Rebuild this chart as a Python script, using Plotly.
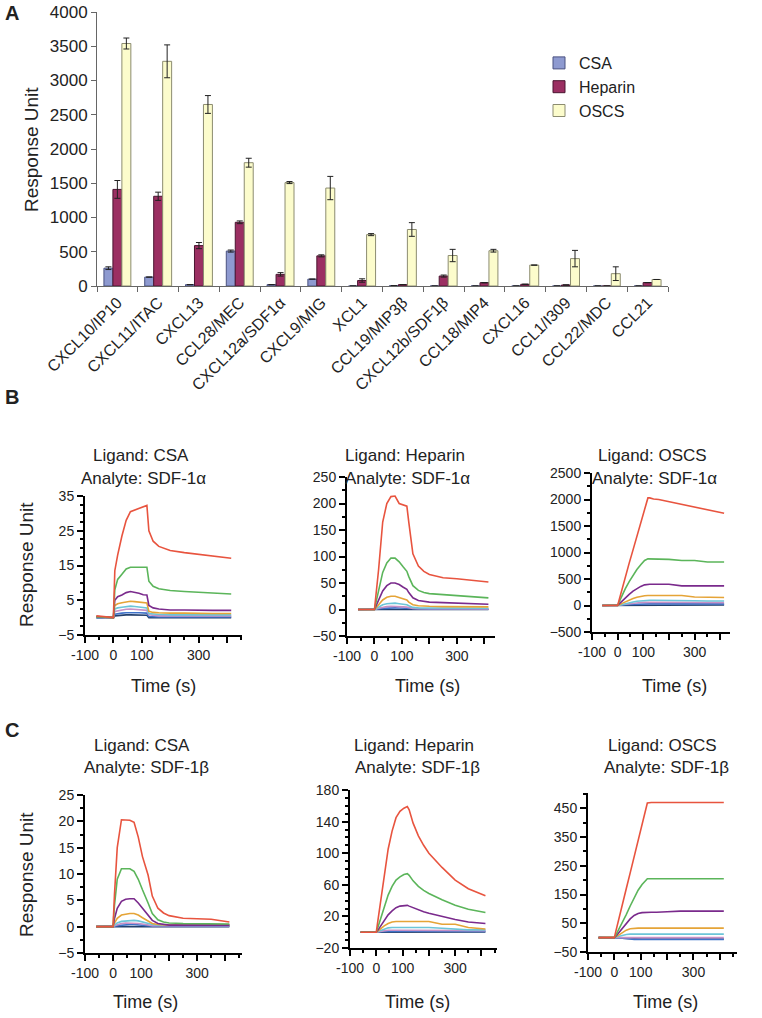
import plotly.graph_objects as go

W, H = 762, 1018

# ---------------- panel A: binding of chemokines to immobilised GAGs ----------------
chemokines = ["CXCL10/IP10", "CXCL11/ITAC", "CXCL13", "CCL28/MEC", "CXCL12a/SDF1α",
              "CXCL9/MIG", "XCL1", "CCL19/MIP3β", "CXCL12b/SDF1β", "CCL18/MIP4",
              "CXCL16", "CCL1/I309", "CCL22/MDC", "CCL21"]
csa = [260, 130, 20, 510, 20, 100, 0, 5, 0, 0, 0, 0, 0, 0]
csa_err = [20, 0, 0, 15, 0, 0, 0, 0, 0, 0, 0, 0, 0, 0]
heparin = [1410, 1310, 590, 930, 170, 440, 80, 20, 145, 48, 25, 15, 0, 50]
heparin_err = [130, 60, 45, 20, 25, 15, 25, 0, 15, 0, 0, 0, 0, 0]
oscs = [3540, 3280, 2650, 1800, 1510, 1430, 750, 825, 445, 515, 305, 400, 180, 95]
oscs_err = [80, 240, 130, 65, 15, 170, 15, 100, 90, 20, 0, 120, 100, 0]

# ---------------- panels B/C: sensorgrams (time in s) ----------------
time_s = [-60, 0, 5, 15, 30, 45, 60, 75, 90, 105, 118, 125, 140, 160, 180, 200, 250, 300, 350, 415]

# SDF-1alpha, highest to lowest concentration
csa_sdf1a = [
    [0.5, 0, 13.5, 18, 23.5, 28, 30.5, 31, 31.5, 32, 32.3, 25, 22, 20.5, 19.8, 19.3, 18.7, 18.2, 17.7, 17.1],
    [0.3, 0, 8, 11, 12.5, 14, 14.5, 14.5, 14.5, 14.3, 14.5, 10.5, 9, 8.3, 8, 7.8, 7.5, 7.3, 7.1, 6.8],
    [0.3, 0, 5, 6, 6.5, 7.2, 7.5, 7.3, 7, 6.6, 6.5, 3.5, 2.8, 2.5, 2.3, 2.2, 2.2, 2.1, 2.1, 2.1],
    [0.2, 0, 3.5, 4, 4.3, 4.6, 4.7, 4.6, 4.4, 4.2, 4.2, 1.8, 1.5, 1.4, 1.3, 1.3, 1.3, 1.2, 1.2, 1.2],
    [0.2, 0, 2.5, 2.8, 3, 3.2, 3.3, 3.2, 3, 2.9, 2.8, 1.2, 1, 0.9, 0.9, 0.8, 0.8, 0.8, 0.8, 0.8],
    [0.1, 0, 1.8, 2, 2.2, 2.4, 2.5, 2.4, 2.3, 2.2, 2.1, 0.8, 0.6, 0.5, 0.5, 0.5, 0.5, 0.5, 0.5, 0.5],
    [0, 0, 1, 1.2, 1.3, 1.4, 1.5, 1.4, 1.4, 1.3, 1.3, 0.3, 0.2, 0.2, 0.2, 0.2, 0.2, 0.2, 0.2, 0.2],
    [0, 0, 0.5, 0.6, 0.7, 0.8, 0.8, 0.8, 0.7, 0.7, 0.7, 0, 0, 0, 0, 0, 0, 0, 0, 0],
]
heparin_sdf1a = [
    [0, 0, 25, 75, 165, 200, 213, 214, 200, 198, 195, 165, 105, 82, 72, 66, 60, 58, 56, 52],
    [0, 0, 12, 35, 70, 88, 97, 97, 90, 80, 72, 62, 45, 36, 32, 30, 28, 26, 24, 22],
    [0, 0, 6, 18, 35, 45, 50, 50, 47, 42, 38, 32, 22, 17, 15, 14, 13, 12, 11, 10],
    [0, 0, 3, 9, 18, 23, 25, 25, 23, 20, 18, 14, 9, 7, 6, 6, 5.5, 5, 5, 5],
    [0, 0, 1.5, 5, 9, 11, 12, 12, 11, 10, 9, 7, 4, 3, 3, 3, 2.5, 2.5, 2.5, 2.5],
    [0, 0, 0.7, 2.5, 4.5, 5.5, 6, 6, 5.5, 5, 4.5, 3.5, 2, 1.5, 1.5, 1.5, 1, 1, 1, 1],
    [0, 0, 0.3, 1.2, 2.2, 2.8, 3, 3, 2.8, 2.5, 2.3, 1.8, 1, 0.8, 0.8, 0.8, 0.5, 0.5, 0.5, 0.5],
    [0, 0, 0.1, 0.4, 0.8, 1, 1, 1, 1, 0.9, 0.8, 0.6, 0.3, 0.2, 0.2, 0.2, 0, 0, 0, 0],
]
oscs_sdf1a = [
    [0, 0, 90, 280, 540, 800, 1050, 1300, 1550, 1800, 2030, 2030, 2010, 2000, 1980, 1960, 1900, 1850, 1800, 1740],
    [0, 0, 60, 170, 320, 450, 570, 680, 770, 850, 880, 880, 880, 880, 880, 870, 850, 850, 820, 820],
    [0, 0, 25, 75, 150, 210, 270, 320, 360, 390, 400, 400, 400, 400, 400, 400, 370, 370, 370, 370],
    [0, 0, 10, 35, 70, 100, 130, 155, 175, 185, 190, 190, 190, 190, 190, 190, 190, 160, 150, 150],
    [0, 0, 5, 15, 35, 50, 65, 80, 90, 95, 100, 100, 100, 100, 100, 100, 90, 90, 85, 85],
    [0, 0, 5, 15, 25, 35, 45, 52, 57, 60, 60, 60, 60, 60, 60, 60, 58, 55, 55, 55],
    [0, 0, 3, 8, 13, 18, 22, 26, 28, 30, 30, 30, 30, 30, 30, 30, 30, 30, 30, 30],
    [0, 0, 1, 3, 5, 6, 8, 9, 10, 10, 10, 10, 10, 10, 10, 10, 10, 10, 10, 10],
]

# SDF-1beta
csa_sdf1b = [
    [0, 0, 6, 15, 20.3, 20.3, 20.2, 19.8, 17, 13.3, 11.2, 9.8, 5.8, 3.5, 2.6, 2.1, 1.6, 1.5, 1.4, 0.9],
    [0, 0, 4, 9, 11, 11, 11, 10.5, 9, 7, 5.5, 4.5, 2.5, 1.3, 0.9, 0.7, 0.6, 0.6, 0.6, 0.5],
    [0, 0, 1.5, 3.5, 4.8, 5.2, 5.3, 5.3, 4.5, 3.5, 2.6, 2.1, 1.2, 0.6, 0.4, 0.3, 0.3, 0.3, 0.3, 0.3],
    [0, 0, 0.7, 1.6, 2.2, 2.4, 2.5, 2.5, 2.2, 1.7, 1.3, 1, 0.6, 0.4, 0.3, 0.3, 0.3, 0.3, 0.3, 0.3],
    [0, 0, 0.3, 0.7, 1, 1.1, 1.2, 1.2, 1.1, 0.9, 0.7, 0.6, 0.4, 0.3, 0.3, 0.3, 0.3, 0.3, 0.3, 0.3],
    [0, 0, 0.2, 0.4, 0.6, 0.7, 0.7, 0.7, 0.6, 0.5, 0.4, 0.3, 0.2, 0.2, 0.2, 0.2, 0.2, 0.2, 0.2, 0.2],
    [0, 0, 0.1, 0.2, 0.3, 0.3, 0.4, 0.4, 0.3, 0.3, 0.2, 0.2, 0.1, 0.1, 0.1, 0.1, 0.1, 0.1, 0.1, 0.1],
    [0, 0, 0, 0.1, 0.1, 0.1, 0.1, 0.1, 0.1, 0.1, 0.1, 0, 0, 0, 0, 0, 0, 0, 0, 0],
]
heparin_sdf1b = [
    [0, 0, 12, 35, 75, 105, 128, 145, 153, 157, 159, 155, 138, 122, 110, 100, 82, 66, 55, 46],
    [0, 0, 5, 15, 32, 47, 58, 66, 70, 73, 74, 72, 65, 58, 53, 49, 41, 34, 29, 25],
    [0, 0, 2, 7, 15, 22, 27, 31, 33, 34, 34, 33, 31, 28, 26, 24, 20, 16, 13, 11],
    [0, 0, 1, 4, 8, 11, 13, 13.5, 13.5, 13.5, 13.5, 13.5, 13.5, 13.5, 13.5, 13.5, 10, 10, 6, 4],
    [0, 0, 0.5, 2, 4, 5.5, 6, 6, 6, 6, 6, 6, 6, 6, 6, 6, 5, 4, 3, 3],
    [0, 0, 0.3, 1, 2, 2.5, 2.5, 2.5, 2.5, 2.5, 2.5, 2.5, 2.5, 2.5, 2.5, 2.5, 2, 2, 2, 2],
    [0, 0, 0.2, 0.6, 1, 1.2, 1.3, 1.3, 1.3, 1.3, 1.3, 1.3, 1.3, 1.3, 1.3, 1.3, 1, 1, 1, 1],
    [0, 0, 0.1, 0.2, 0.4, 0.5, 0.5, 0.5, 0.5, 0.5, 0.5, 0.5, 0.5, 0.5, 0.5, 0.5, 0.3, 0.3, 0.3, 0.3],
]
oscs_sdf1b = [
    [0, 0, 20, 60, 115, 170, 225, 280, 340, 395, 445, 468, 470, 470, 470, 470, 470, 470, 470, 470],
    [0, 0, 8, 25, 50, 80, 110, 140, 165, 185, 200, 205, 205, 205, 205, 205, 205, 205, 205, 205],
    [0, 0, 4, 15, 30, 50, 65, 77, 84, 87, 88, 88, 88, 88, 88, 90, 92, 92, 92, 92],
    [0, 0, 2, 8, 18, 26, 31, 33, 33, 33, 33, 33, 33, 33, 33, 33, 33, 33, 33, 33],
    [0, 0, 1, 4, 8, 11, 12, 12, 12, 12, 12, 12, 12, 12, 12, 12, 12, 12, 12, 12],
    [0, 0, 0.5, 1, 1, 1, 1, 0, 0, 0, 0, 0, 0, 0, 0, 0, 0, 0, 0, 0],
    [0, 0, -0.5, -1, -2, -3, -5, -6, -6, -6, -6, -6, -6, -6, -6, -6, -6, -6, -6, -6],
    [0, 0, -0.5, -1, -2, -3, -4, -5, -5, -5, -5, -5, -5, -5, -5, -5, -5, -5, -5, -5],
]

curve_colors = ["#E8543F", "#5BB55A", "#7A2A8C", "#E5A437", "#6CC5D8", "#C890C6", "#3F73C9", "#23406E"]

FONT = "Arial, Liberation Sans, sans-serif"


def px_x(a, b):
    return [a / W, b / W]


def px_y(top, bottom):
    return [1 - bottom / H, 1 - top / H]


fig = go.Figure()

# bars
bar_specs = [
    ("CSA", csa, csa_err, "#8E9AD0", "#4A5280"),
    ("Heparin", heparin, heparin_err, "#9B2F62", "#4A1530"),
    ("OSCS", oscs, oscs_err, "#FCFCCC", "#8C8C70"),
]
for name, vals, errs, fill, edge in bar_specs:
    fig.add_trace(go.Bar(
        x=chemokines, y=vals, name=name,
        marker=dict(color=fill, line=dict(color=edge, width=1)),
        error_y=dict(type="data", array=errs, color="#222", thickness=1, width=3),
        xaxis="x", yaxis="y",
    ))

# sensorgram panels: (data, axis suffix)
panels = [
    (csa_sdf1a, "2"), (heparin_sdf1a, "3"), (oscs_sdf1a, "4"),
    (csa_sdf1b, "5"), (heparin_sdf1b, "6"), (oscs_sdf1b, "7"),
]
for data, k in panels:
    # draw lowest curves first so red sits on top
    for col, series in reversed(list(zip(curve_colors, data))):
        fig.add_trace(go.Scatter(
            x=time_s, y=series, mode="lines",
            line=dict(color=col, width=1.6),
            showlegend=False, hoverinfo="skip",
            xaxis="x" + k, yaxis="y" + k,
        ))

tick_font = dict(family=FONT, size=14, color="#222")


def time_axis(dom, rng, anchor):
    return dict(
        domain=dom, range=rng, anchor=anchor, automargin=False,
        showline=True, linecolor="black", linewidth=2,
        showgrid=False, zeroline=False,
        ticks="outside", ticklen=6, tickwidth=2, tickcolor="black",
        tickmode="array", tickvals=[-100, 0, 100, 200, 300, 400],
        ticktext=["-100", "0", "100", "", "300", ""],
        minor=dict(ticks="outside", ticklen=3, tickwidth=1.5, tickcolor="black",
                   tickmode="array", tickvals=[-50, 50, 150, 250, 350, 450]),
        tickfont=tick_font,
    )


def ru_axis(dom, rng, anchor, tick0, dtick, minor):
    return dict(
        domain=dom, range=rng, anchor=anchor, automargin=False,
        showline=True, linecolor="black", linewidth=2,
        showgrid=False, zeroline=False,
        ticks="outside", ticklen=6, tickwidth=2, tickcolor="black",
        tick0=tick0, dtick=dtick,
        minor=dict(ticks="outside", ticklen=3, tickwidth=1.5, tickcolor="black", dtick=minor, tick0=tick0),
        tickfont=tick_font,
    )


fig.update_layout(
    width=W, height=H,
    margin=dict(l=0, r=0, t=0, b=0, autoexpand=False),
    paper_bgcolor="white", plot_bgcolor="white",
    font=dict(family=FONT, color="#222"),
    barmode="group", bargap=0.34, bargroupgap=0,
    legend=dict(x=539 / W, y=1 - 46 / H, xanchor="left", yanchor="top",
                font=dict(family=FONT, size=16, color="#222"),
                bgcolor="rgba(0,0,0,0)", tracegroupgap=0, itemwidth=30),
    xaxis=dict(domain=px_x(97, 668), anchor="y", automargin=False,
               showline=True, linecolor="#666", linewidth=1,
               ticks="outside", tickson="boundaries", ticklen=5, tickcolor="#666",
               tickangle=-45, tickfont=dict(family=FONT, size=16, color="#222"),
               showgrid=False),
    yaxis=dict(domain=px_y(12, 286), anchor="x", automargin=False, range=[0, 4000], dtick=500,
               showline=True, linecolor="#666", linewidth=1, ticks="outside", ticklen=5,
               tickcolor="#666", showgrid=False, zeroline=False,
               tickfont=dict(family=FONT, size=17, color="#222")),
    xaxis2=time_axis(px_x(85, 242), [-100, 453], "y2"),
    yaxis2=ru_axis(px_y(496, 635), [-5, 35], "x2", -5, 10, 2.5),
    xaxis3=time_axis(px_x(347, 495), [-100, 439], "y3"),
    yaxis3=ru_axis(px_y(477, 636), [-50, 250], "x3", -50, 50, 25),
    xaxis4=time_axis(px_x(592, 730), [-100, 438], "y4"),
    yaxis4=ru_axis(px_y(473, 632), [-500, 2500], "x4", -500, 500, 250),
    xaxis5=time_axis(px_x(85, 242), [-100, 460], "y5"),
    yaxis5=ru_axis(px_y(795, 953), [-5, 25], "x5", -5, 5, 2.5),
    xaxis6=time_axis(px_x(350, 497), [-100, 459], "y6"),
    yaxis6=ru_axis(px_y(790, 948), [-20, 180], "x6", -20, 40, 10),
    xaxis7=time_axis(px_x(588, 737), [-100, 465], "y7"),
    yaxis7=ru_axis(px_y(793, 952), [-50, 503], "x7", -50, 100, 50),
)


def note(text, x, y, size=17, **kw):
    fig.add_annotation(text=text, x=x / W, y=1 - y / H, xref="paper", yref="paper",
                       xanchor="center", yanchor="middle", showarrow=False,
                       font=dict(family=FONT, size=size, color="#222"), **kw)


note("<b>A</b>", 12, 13, size=20)
note("<b>B</b>", 12, 397, size=20)
note("<b>C</b>", 12, 730, size=20)

note("Response Unit", 32, 150, size=19, textangle=-90)
note("Response Unit", 26, 565, size=19, textangle=-90)
note("Response Unit", 26, 875, size=19, textangle=-90)

titles_b = [("CSA", 141), ("Heparin", 405), ("OSCS", 652)]
for lig, cx in titles_b:
    note("Ligand: " + lig, cx, 455)
    note("Analyte: SDF-1α", cx + 2, 478)
    note("Time (s)", cx + 22, 686, size=18)

titles_c = [("CSA", 142), ("Heparin", 414), ("OSCS", 662)]
for lig, cx in titles_c:
    note("Ligand: " + lig, cx, 745)
    note("Analyte: SDF-1β", cx + 4, 767)
    note("Time (s)", cx + 3, 1002, size=18)

# drop the default page margin so the figure sits flush in the window
fig.write_html("out.html", config={"displayModeBar": False},
               post_script="document.body.style.margin='0';")
